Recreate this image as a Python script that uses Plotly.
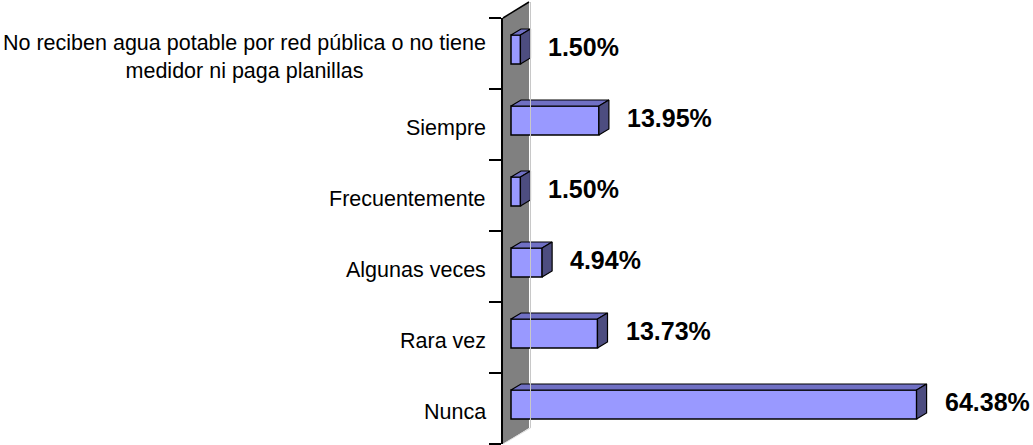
import plotly.graph_objects as go

categorias = [
    "No reciben agua potable por red pública o no tiene<br>medidor ni paga planillas",
    "Siempre",
    "Frecuentemente",
    "Algunas veces",
    "Rara vez",
    "Nunca",
]
porcentajes = [1.50, 13.95, 1.50, 4.94, 13.73, 64.38]
etiquetas = ["1.50%", "13.95%", "1.50%", "4.94%", "13.73%", "64.38%"]

W, H = 1033, 445
ML, MR, MT, MB = 503, 0, 18, 1
pw, ph = W - ML - MR, H - MT - MB

n = len(categorias)
pos = [n - 1 - i for i in range(n)]  # Nunca at the bottom

px_per_x = 6.3
x0 = -8 / px_per_x
x1 = x0 + pw / px_per_x
px_per_y = ph / n

# 3D look of the bars
depth_dx = 10 / px_per_x
depth_dy = 6 / px_per_y
half = 14.5 / px_per_y
yoff = 4 / px_per_y

FONT = "Liberation Sans, Arial, sans-serif"

fig = go.Figure()

fig.add_trace(go.Bar(
    y=pos, x=porcentajes, orientation="h",
    width=2 * half, offset=yoff - half,
    marker=dict(color="#9999FF", line=dict(color="#000000", width=1.5)),
    hoverinfo="skip",
))

top_x, top_y, side_x, side_y = [], [], [], []
for p, v in zip(pos, porcentajes):
    c = p + yoff
    top_x += [0, v, v + depth_dx, depth_dx, 0, None]
    top_y += [c + half, c + half, c + half + depth_dy, c + half + depth_dy, c + half, None]
    side_x += [v, v + depth_dx, v + depth_dx, v, v, None]
    side_y += [c - half, c - half + depth_dy, c + half + depth_dy, c + half, c - half, None]

fig.add_trace(go.Scatter(x=top_x, y=top_y, mode="lines", fill="toself",
                         fillcolor="#7070C4", line=dict(color="#000000", width=1.2),
                         hoverinfo="skip"))
fig.add_trace(go.Scatter(x=side_x, y=side_y, mode="lines", fill="toself",
                         fillcolor="#4D4D80", line=dict(color="#000000", width=1.2),
                         hoverinfo="skip"))

annotations = []
for p, v, t in zip(pos, porcentajes, etiquetas):
    annotations.append(dict(
        x=v, y=p, xref="x", yref="y", text=f"<b>{t}</b>", showarrow=False,
        xanchor="left", yanchor="middle", xshift=26, yshift=7,
        font=dict(family=FONT, size=25, color="#000000"),
    ))
for p, cat in zip(pos, categorias):
    annotations.append(dict(
        x=0, y=p, xref="paper", yref="y", text=cat, showarrow=False,
        xanchor="right", yanchor="middle", xshift=-15, yshift=-3, align="center",
        font=dict(family=FONT, size=21.5, color="#000000"),
    ))

# gray back wall (paper coords)
wall_dx = 26 / pw
wall_dy = 16 / ph
shapes = [
    dict(type="path", xref="paper", yref="paper", layer="below",
         path=f"M 0 0 L 0 1 L {wall_dx} {1 + wall_dy} L {wall_dx} {wall_dy} Z",
         fillcolor="#808080", line=dict(width=0)),
    dict(type="line", xref="paper", yref="paper", x0=0, y0=1, x1=wall_dx, y1=1 + wall_dy,
         line=dict(color="#000000", width=1.5)),
    dict(type="line", xref="paper", yref="paper", x0=wall_dx + 1.5 / pw, y0=1 + wall_dy,
         x1=wall_dx + 1.5 / pw, y1=wall_dy, line=dict(color="#C8C8C8", width=1)),
    dict(type="line", xref="paper", yref="paper", x0=0, y0=0, x1=wall_dx + 1.5 / pw, y1=wall_dy,
         line=dict(color="#E0E0E0", width=1)),
]

fig.update_layout(
    width=W, height=H,
    margin=dict(l=ML, r=MR, t=MT, b=MB),
    paper_bgcolor="#FFFFFF", plot_bgcolor="rgba(0,0,0,0)",
    showlegend=False,
    annotations=annotations,
    shapes=shapes,
    xaxis=dict(range=[x0, x1], visible=False, showgrid=False, zeroline=False),
    yaxis=dict(
        range=[-0.5, n - 0.5],
        tickvals=[k - 0.5 for k in range(n + 1)],
        showticklabels=False, ticks="outside", ticklen=12, tickwidth=2, tickcolor="#000000",
        showline=True, linewidth=2, linecolor="#000000",
        showgrid=False, zeroline=False,
        automargin=False,
    ),
)

# no page margin around the figure
fig.write_html("out.html", config={"displayModeBar": False},
               post_script="document.body.style.margin='0';")
